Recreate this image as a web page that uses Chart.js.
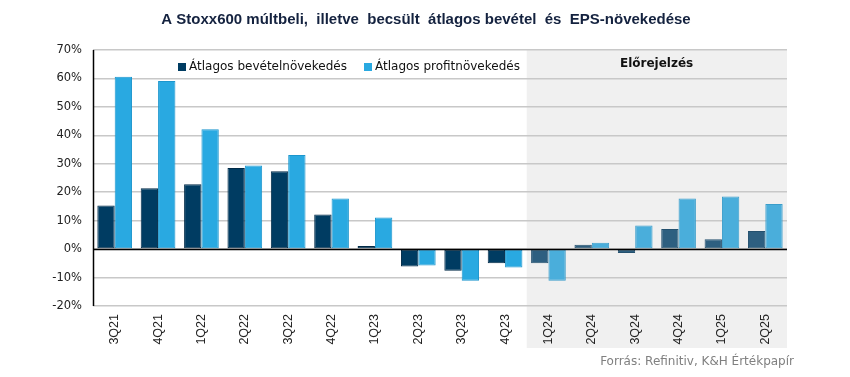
<!DOCTYPE html>
<html><head><meta charset="utf-8">
<script src="https://cdn.jsdelivr.net/npm/chart.js@4/dist/chart.umd.min.js"></script>
<style>html,body{margin:0;padding:0;background:#fff}#wrap{width:850px;height:377px;position:relative}</style>
</head><body><div id="wrap"><canvas id="c" width="850" height="377"></canvas></div>
<script>
const categories = ["3Q21","4Q21","1Q22","2Q22","3Q22","4Q22","1Q23","2Q23","3Q23","4Q23","1Q24","2Q24","3Q24","4Q24","1Q25","2Q25"];
const revenueGrowth = [15.3,21.4,22.8,28.5,27.4,12.2,1.1,-6.1,-7.6,-5.0,-5.0,1.5,-1.4,7.1,3.5,6.4];
const profitGrowth = [60.6,59.1,42.1,29.4,33.1,17.8,11.1,-5.8,-11.1,-6.5,-11.1,2.2,8.3,17.8,18.5,15.9];
const forecastStart = 10;
const yTicks = [-20,-10,0,10,20,30,40,50,60,70];
const title = "A Stoxx600 múltbeli,  illetve  becsült  átlagos bevétel  és  EPS-növekedése";
const seriesNames = ["Átlagos bevételnövekedés","Átlagos profitnövekedés"];
const forecastLabel = "Előrejelzés";
const sourceText = "Forrás: Refinitiv, K&H Értékpapír";

const FONT = "'DejaVu Sans', Verdana, sans-serif";
const c1 = "#003c62", c1f = "#2e5f80", c2 = "#29a9e1", c2f = "#4aaedb";

const deco = {
  id: 'deco',
  beforeDraw(chart) {
    const ctx = chart.ctx, x = chart.scales.x, ca = chart.chartArea;
    const left = (x.getPixelForValue(forecastStart - 1) + x.getPixelForValue(forecastStart)) / 2;
    ctx.save();
    ctx.fillStyle = "#f0f0f0";
    ctx.fillRect(left, ca.top, ca.right - left, x.bottom - ca.top);
    ctx.restore();
  },
  afterDraw(chart) {
    const ctx = chart.ctx, ca = chart.chartArea, x = chart.scales.x, y = chart.scales.y;
    ctx.save();
    ctx.strokeStyle = "#000"; ctx.lineWidth = 1.5;
    const y0 = Math.round(y.getPixelForValue(0)) + 0.5;
    ctx.beginPath(); ctx.moveTo(ca.left, y0); ctx.lineTo(ca.right, y0); ctx.stroke();
    ctx.beginPath(); ctx.moveTo(ca.left + 0.5, ca.top); ctx.lineTo(ca.left + 0.5, ca.bottom); ctx.stroke();
    ctx.fillStyle = "#14223f";
    ctx.font = "bold 15px 'Liberation Sans', Arial, sans-serif";
    ctx.textAlign = "center"; ctx.textBaseline = "middle";
    ctx.fillText(title, 426, 20);
    ctx.font = "12px " + FONT;
    ctx.textAlign = "left";
    const ly = 67;
    ctx.fillStyle = c1; ctx.fillRect(178, ly - 4, 8, 8);
    ctx.fillStyle = "#111"; ctx.fillText(seriesNames[0], 189, ly);
    ctx.fillStyle = c2; ctx.fillRect(364, ly - 4, 8, 8);
    ctx.fillStyle = "#111"; ctx.fillText(seriesNames[1], 375, ly);
    ctx.font = "bold 12px " + FONT;
    ctx.fillStyle = "#111";
    ctx.fillText(forecastLabel, 620, 64);
    ctx.font = "12px " + FONT;
    ctx.fillStyle = "#808080";
    ctx.textAlign = "right";
    ctx.fillText(sourceText, 794, 362);
    ctx.restore();
  }
};

new Chart(document.getElementById('c'), {
  type: 'bar',
  data: {
    labels: categories,
    datasets: [
      { label: seriesNames[0], data: revenueGrowth,
        backgroundColor: ctx => ctx.dataIndex >= forecastStart ? c1f : c1,
        borderColor: ctx => ctx.dataIndex >= forecastStart ? "#24506e" : "#002a47",
        borderWidth: 1, borderSkipped: false, categoryPercentage: 0.8, barPercentage: 1.0 },
      { label: seriesNames[1], data: profitGrowth,
        backgroundColor: ctx => ctx.dataIndex >= forecastStart ? c2f : c2,
        borderColor: ctx => ctx.dataIndex >= forecastStart ? "#3a9dca" : "#1c96cd",
        borderWidth: 1, borderSkipped: false, categoryPercentage: 0.8, barPercentage: 1.0 }
    ]
  },
  plugins: [deco],
  options: {
    responsive: false, animation: false,
    layout: { padding: { left: 0, right: 63, top: 50, bottom: 29 } },
    plugins: { legend: { display: false }, tooltip: { enabled: false }, title: { display: false } },
    scales: {
      x: {
        grid: { display: false, drawTicks: false },
        border: { display: false },
        ticks: { maxRotation: 90, minRotation: 90, color: "#222", padding: 8,
          font: { family: "'Liberation Sans', Arial, sans-serif", size: 12.5 } },
        afterFit(s) { s.height = 42; }
      },
      y: {
        min: -20, max: 70,
        afterBuildTicks(s) { s.ticks = yTicks.map(v => ({ value: v })); },
        afterFit(s) { s.width = 93; },
        grid: { color: "#c8c8c8", lineWidth: 1.5, drawTicks: false },
        border: { display: false },
        ticks: { padding: 11, color: "#222", font: { family: FONT, size: 11.5 },
          callback: v => v + "%" }
      }
    }
  }
});
</script>
</body></html>
